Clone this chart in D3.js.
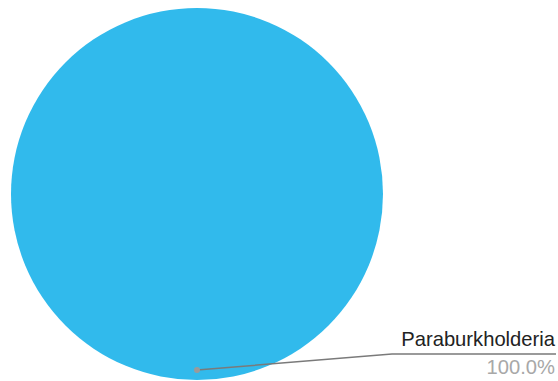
<!DOCTYPE html>
<html>
<head>
<meta charset="utf-8">
<script src="https://cdn.jsdelivr.net/npm/d3@7"></script>
<style>
  html, body { margin: 0; padding: 0; background: #fff; }
  svg { display: block; }
</style>
</head>
<body>
<svg id="chart" width="558" height="381"></svg>
<script>
const categories = ["Paraburkholderia"];
const values = [100.0];
const colors = ["#31baec"];

const width = 558, height = 381;
const cx = 197, cy = 194, radius = 186;

const svg = d3.select("#chart");
const g = svg.append("g").attr("transform", `translate(${cx},${cy})`);

const pie = d3.pie().sort(null).value(d => d.value);
const data = categories.map((c, i) => ({ name: c, value: values[i] }));
const arcs = pie(data);
const total = d3.sum(values);

const arc = d3.arc().innerRadius(0).outerRadius(radius);
const anchorArc = d3.arc().innerRadius(radius * 0.946).outerRadius(radius * 0.946);

g.selectAll("path.slice")
  .data(arcs)
  .join("path")
  .attr("class", "slice")
  .attr("d", arc)
  .attr("fill", (d, i) => colors[i]);

// leader lines and labels
const labelX = 556;
arcs.forEach(d => {
  const [ax, ay] = anchorArc.centroid(d);
  const elbowX = 392 - cx, elbowY = 354 - cy;
  const endX = labelX - cx;
  g.append("polyline")
    .attr("points", [[ax, ay], [elbowX, elbowY], [endX, elbowY]].map(p => p.join(",")).join(" "))
    .attr("fill", "none")
    .attr("stroke", "#7a7a7a")
    .attr("stroke-width", 1.5);
  g.append("circle")
    .attr("cx", ax).attr("cy", ay).attr("r", 3)
    .attr("fill", "#9a9a9a");
  g.append("text")
    .attr("x", endX - 1).attr("y", elbowY - 8.5)
    .attr("text-anchor", "end")
    .attr("font-family", "Liberation Sans, Arial, sans-serif")
    .attr("font-size", 20.2)
    .attr("fill", "#222")
    .text(d.data.name);
  g.append("text")
    .attr("x", endX - 1).attr("y", elbowY + 20)
    .attr("text-anchor", "end")
    .attr("font-family", "Liberation Sans, Arial, sans-serif")
    .attr("font-size", 20.2)
    .attr("fill", "#a8a8a8")
    .text((d.data.value / total * 100).toFixed(1) + "%");
});
</script>
</body>
</html>
